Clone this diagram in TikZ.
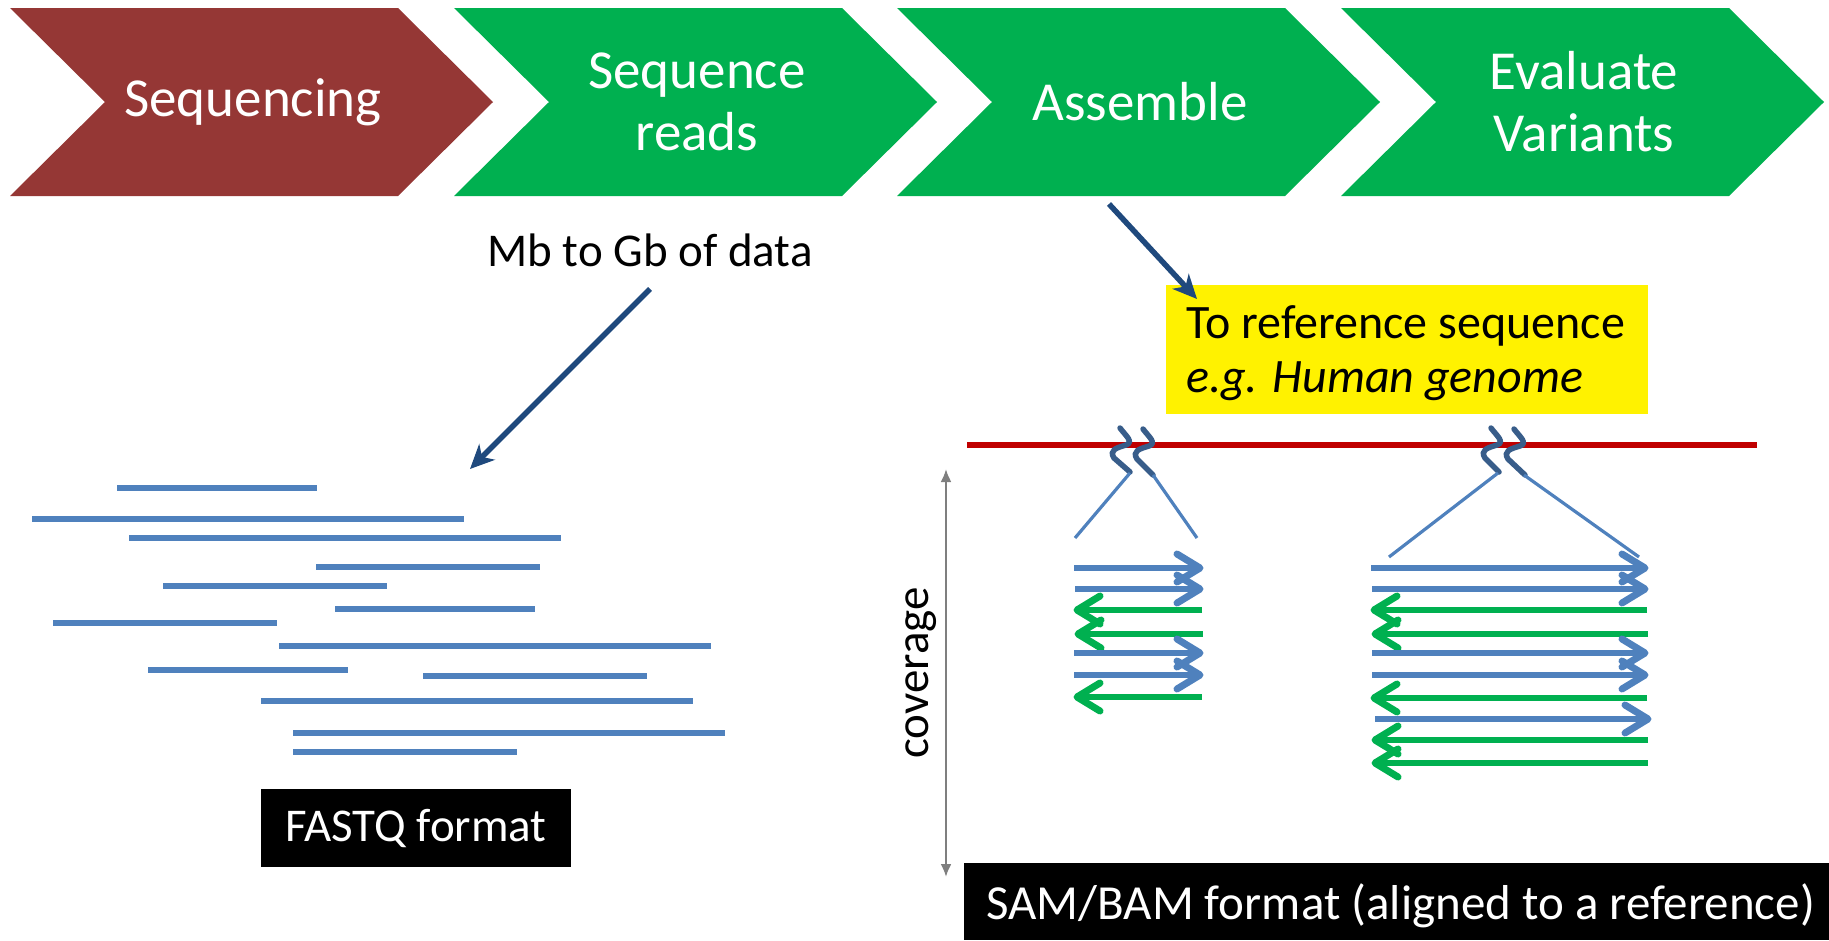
\documentclass[tikz,border=0pt]{standalone}
\usepackage{fontspec}
\setmainfont{Carlito}
\usetikzlibrary{arrows.meta}
\definecolor{brick}{HTML}{953735}
\definecolor{leaf}{HTML}{00B050}
\definecolor{readblue}{HTML}{4F81BD}
\definecolor{navy}{HTML}{1F497D}
\definecolor{refred}{HTML}{C00000}
\definecolor{breakblue}{HTML}{385D8A}
\definecolor{axisgray}{HTML}{7F7F7F}
\newcommand\chevronshape[2]{%
  \fill[#2] (#1,8) -- ++(388,0) -- ++(95,94) -- ++(-95,94) -- ++(-388,0) -- ++(95,-94) -- cycle;}
% aligned read pointing right: tail x, tip x, y
\newcommand\fwdread[3]{%
  \draw[readblue, shaft] (#1,#3) -- (#2-4,#3);
  \draw[readblue, barbhead] (#2-27,#3-14) -- (#2-4,#3) -- (#2-27,#3+14);}
% aligned read pointing left: tail x, tip x, y
\newcommand\revread[3]{%
  \draw[leaf, shaft] (#1,#3) -- (#2+4,#3);
  \draw[leaf, barbhead] (#2+27,#3-14) -- (#2+4,#3) -- (#2+27,#3+14);}
\begin{document}
\begin{tikzpicture}[x=1pt,y=-1pt,
  steptext/.style={text=white, font=\fontsize{55}{62}\selectfont, align=center, inner sep=0pt},
  label/.style={font=\fontsize{47}{53}\selectfont, inner sep=0pt},
  read/.style={readblue, line width=6.5pt},
  shaft/.style={line width=6pt},
  barbhead/.style={line width=7pt, line cap=round, line join=round},
  callout/.style={navy, line width=5.5pt, -{Stealth[length=24pt,width=22pt,inset=7pt]}},
  squiggle/.style={breakblue, line width=5.5pt, line cap=round},
  zoomline/.style={readblue, line width=3.2pt},
  blackbox/.style={fill=black, text=white, font=\fontsize{47}{53}\selectfont},
]
\useasboundingbox (0,0) rectangle (1829,940);

% pipeline chevrons
\chevronshape{10}{brick}
\chevronshape{454}{leaf}
\chevronshape{897}{leaf}
\chevronshape{1341}{leaf}
\node[steptext] (seq) at (253,102) {Sequencing};
\node[steptext] (reads) at (697,102) {Sequence\\reads};
\node[steptext] (asm) at (1140,102) {Assemble};
\node[steptext] (eval) at (1584,102) {Evaluate\\Variants};

% data volume note and its pointer
\node[label] (mb) at (650,250) {Mb to Gb of data};
\coordinate (readsTop) at (470,469);
\draw[callout] (650,289) -- (readsTop);

% unaligned reads
\draw[read] (117,488) -- (317,488);
\draw[read] (32,519) -- (464,519);
\draw[read] (129,538) -- (561,538);
\draw[read] (316,567) -- (540,567);
\draw[read] (163,586) -- (387,586);
\draw[read] (335,609) -- (535,609);
\draw[read] (53,623) -- (277,623);
\draw[read] (279,646) -- (711,646);
\draw[read] (148,670) -- (348,670);
\draw[read] (423,676) -- (647,676);
\draw[read] (261,701) -- (693,701);
\draw[read] (293,733) -- (725,733);
\draw[read] (293,752) -- (517,752);

\node[blackbox, minimum width=310pt, minimum height=78pt, inner sep=0pt] (fastq) at (416,828) {FASTQ format};

% reference box
\node[fill=yellow, anchor=north west, minimum width=482pt, minimum height=129pt, inner sep=0pt] (refbox) at (1166,285) {};
\node[label, font=\fontsize{48}{53}\selectfont, anchor=west] (reftxt1) at (1186,326) {To reference sequence};
\node[label, font=\fontsize{48}{53}\selectfont, anchor=west] (reftxt2) at (1186,381) {\itshape e.g. Human genome};
\draw[callout] (1109,204) -- (1197,299);

% reference line
\draw[refred, line width=6pt] (967,445) -- (1757,445);

% break marks on the reference
\draw[squiggle] (1120,428) .. controls (1126,436) and (1134,442) .. (1126,445)
  .. controls (1116,448) and (1109,450) .. (1114,458) -- (1130,472);
\draw[squiggle] (1143,429) .. controls (1149,437) and (1157,443) .. (1149,446)
  .. controls (1139,449) and (1132,451) .. (1137,459) -- (1153,475);
\draw[squiggle] (1491,428) .. controls (1497,436) and (1505,442) .. (1497,445)
  .. controls (1487,448) and (1480,450) .. (1485,458) -- (1499,472);
\draw[squiggle] (1514,429) .. controls (1520,437) and (1528,443) .. (1520,446)
  .. controls (1510,449) and (1503,451) .. (1508,459) -- (1525,475);

% zoom-in lines
\draw[zoomline] (1130,473) -- (1075,538);
\draw[zoomline] (1153,475) -- (1197,538);
\draw[zoomline] (1498,473) -- (1389,557);
\draw[zoomline] (1524,475) -- (1639,557);

% aligned reads, left locus
\fwdread{1074}{1204}{568}
\fwdread{1075}{1204}{589}
\revread{1202}{1073}{610}
\revread{1203}{1074}{634}
\fwdread{1074}{1204}{653}
\fwdread{1074}{1204}{675}
\revread{1202}{1073}{697}

% aligned reads, right locus
\fwdread{1371}{1649}{568}
\fwdread{1372}{1649}{589}
\revread{1647}{1370}{610}
\revread{1648}{1371}{634}
\fwdread{1372}{1649}{653}
\fwdread{1372}{1649}{675}
\revread{1647}{1370}{698}
\fwdread{1375}{1652}{719}
\revread{1648}{1371}{740}
\revread{1648}{1371}{763}

% coverage axis
\coordinate (covTop) at (946,469);
\coordinate (covBot) at (946,877);
\draw[axisgray, line width=2.2pt, {Latex[length=13pt,width=11pt]}-{Latex[length=13pt,width=11pt]}] (covTop) -- (covBot);
\node[label, rotate=90] (cov) at (921,673) {coverage};

% output format banner
\fill[black] (964,863) rectangle (1829,940);
\node[label, font=\fontsize{49}{55}\selectfont, text=white, anchor=west] (sam) at (986,906) {SAM/BAM format (aligned to a reference)};
\end{tikzpicture}
\end{document}
